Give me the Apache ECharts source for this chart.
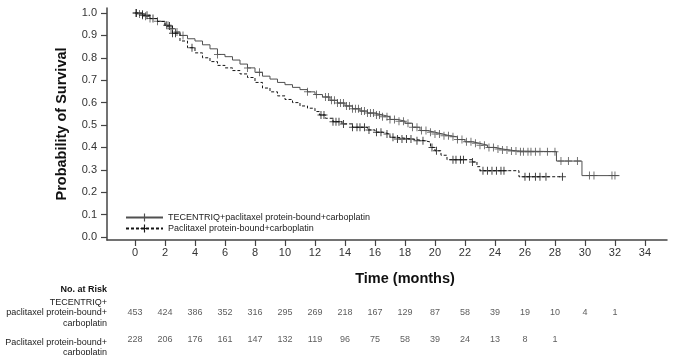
<!DOCTYPE html>
<html><head><meta charset="utf-8">
<script src="https://cdn.jsdelivr.net/npm/echarts/dist/echarts.min.js"></script>
<style>html,body{margin:0;padding:0;background:#fff}#c{width:679px;height:355px}</style>
</head><body><div id="c"></div>
<script>
// ---- data ----
const armNames = ['TECENTRIQ+paclitaxel protein-bound+carboplatin', 'Paclitaxel protein-bound+carboplatin'];
const timesA = [0,0.3,0.7,1.0,1.5,2.0,2.3,2.7,3.0,3.5,4.0,4.5,5.0,5.5,6.0,6.5,7.0,7.5,8.0,8.5,9.0,9.5,10.0,10.5,11.0,11.5,12.0,12.5,13.0,13.5,14.0,14.5,15.0,15.5,16.0,16.5,17.0,17.5,18.0,18.5,19.0,19.5,20.0,20.5,21.0,21.5,22.0,22.5,23.0,23.5,24.0,24.5,25.0,25.5,28.1,29.8,32.3];
const survA  = [1.0,0.995,0.985,0.975,0.963,0.945,0.93,0.915,0.90,0.885,0.875,0.858,0.84,0.815,0.805,0.79,0.772,0.755,0.735,0.718,0.705,0.69,0.68,0.668,0.658,0.648,0.636,0.625,0.61,0.598,0.585,0.572,0.562,0.553,0.545,0.537,0.525,0.517,0.508,0.49,0.475,0.468,0.46,0.452,0.447,0.435,0.425,0.418,0.41,0.40,0.393,0.388,0.384,0.381,0.339,0.274,0.274];
const timesB = [0,0.5,1.0,1.5,2.0,2.5,3.0,3.5,4.0,4.5,5.0,5.5,6.0,6.5,7.0,7.5,8.0,8.5,9.0,9.5,10.0,10.5,11.0,11.5,12.0,12.3,12.7,13.2,13.8,14.5,15.5,16.0,16.5,17.0,17.5,18.5,19.3,19.7,20.0,20.4,20.8,22.5,22.8,23.0,25.6,28.5];
const survB  = [1.0,0.99,0.975,0.962,0.942,0.91,0.875,0.845,0.822,0.80,0.783,0.766,0.755,0.743,0.728,0.712,0.69,0.665,0.648,0.63,0.614,0.6,0.585,0.575,0.56,0.545,0.53,0.515,0.505,0.49,0.478,0.468,0.46,0.445,0.437,0.43,0.424,0.40,0.385,0.365,0.345,0.335,0.314,0.296,0.269,0.269];
const censorA = [0.05,0.3,0.5,0.7,1.0,1.5,2.1,2.2,2.4,2.8,3.2,5.5,7.5,8.3,11.5,12.1,12.7,12.9,13.1,13.3,13.5,13.7,13.9,14.1,14.3,14.5,14.7,14.9,15.1,15.3,15.5,15.7,15.9,16.1,16.3,16.5,16.8,17.0,17.3,17.6,17.9,18.2,18.5,18.8,19.1,19.4,19.7,20.0,20.3,20.6,20.9,21.2,21.5,21.8,22.1,22.4,22.7,23.0,23.3,23.6,23.9,24.2,24.5,24.8,25.1,25.4,25.7,25.9,26.2,26.4,26.7,27.0,27.5,28.0,28.4,28.9,29.5,30.3,30.6,31.8,32.0];
const censorB = [0.1,0.5,0.8,1.2,2.3,2.5,2.7,3.8,12.4,12.6,13.2,13.4,13.6,13.9,14.5,14.8,15.0,15.3,15.6,16.1,16.4,16.8,17.2,17.5,17.8,18.1,18.4,18.8,19.2,19.8,20.1,21.2,21.4,21.7,21.9,22.5,23.2,23.5,23.8,24.1,24.4,24.6,26.0,26.3,26.7,27.0,27.4,28.5];
const riskTimes = [0,2,4,6,8,10,12,14,16,18,20,22,24,26,28,30,32];
const riskA = [453,424,386,352,316,295,269,218,167,129,87,58,39,19,10,4,1];
const riskB = [228,206,176,161,147,132,119,96,75,58,39,24,13,8,1];
const rowLabels = ['TECENTRIQ+\npaclitaxel protein-bound+\ncarboplatin', 'Paclitaxel protein-bound+\ncarboplatin'];
const xTicks = [0,2,4,6,8,10,12,14,16,18,20,22,24,26,28,30,32,34];
const yTicks = [0,0.1,0.2,0.3,0.4,0.5,0.6,0.7,0.8,0.9,1.0];

// ---- build ----
function survAt(times, surv, t) {
  let v = surv[0];
  for (let i = 0; i < times.length; i++) { if (times[i] <= t) v = surv[i]; else break; }
  return v;
}
const FONT = "'Liberation Sans', Arial, sans-serif";
const colA = '#505050', colB = '#151515';
const plus = 'path://M3,0H4V8H3Z M0,3.5H7V4.5H0Z';
const XMIN = -1.867, XMAX = 35.47;

const chart = echarts.init(document.getElementById('c'), null, {renderer: 'canvas'});
const option = {
  animation: false,
  backgroundColor: '#fff',
  textStyle: {fontFamily: FONT},
  grid: [
    {left: 107, right: 12, top: 8, bottom: 115},
    {left: 107, right: 12, top: 299.5, height: 54}
  ],
  legend: {
    orient: 'vertical', left: 120, top: 208, itemWidth: 37, itemHeight: 10, itemGap: 2,
    data: armNames,
    textStyle: {fontSize: 9, color: '#222', fontFamily: FONT}
  },
  xAxis: [{
    type: 'value', gridIndex: 0, min: XMIN, max: XMAX,
    axisLine: {onZero: false, lineStyle: {color: '#444', width: 1.5}},
    axisTick: {customValues: xTicks, length: 6, lineStyle: {color: '#444', width: 1.2}},
    axisLabel: {customValues: xTicks, fontSize: 11, color: '#333', margin: 7, fontFamily: FONT},
    splitLine: {show: false},
    name: 'Time (months)', nameLocation: 'middle', nameGap: 31,
    nameTextStyle: {fontSize: 14.5, fontWeight: 'bold', color: '#111', fontFamily: FONT, padding: [0, 0, 0, 36]}
  }, {
    type: 'value', gridIndex: 1, min: XMIN, max: XMAX, show: false
  }],
  yAxis: [{
    type: 'value', gridIndex: 0, min: -0.0134, max: 1.0223,
    axisLine: {show: true, onZero: false, lineStyle: {color: '#444', width: 1.5}},
    axisTick: {show: true, customValues: yTicks, length: 6, lineStyle: {color: '#444', width: 1.2}},
    axisLabel: {customValues: yTicks, fontSize: 11, color: '#333', margin: 10, fontFamily: FONT,
      formatter: v => v.toFixed(1)},
    splitLine: {show: false},
    name: 'Probability of Survival', nameLocation: 'middle', nameGap: 38,
    nameTextStyle: {fontSize: 14.5, fontWeight: 'bold', color: '#111', fontFamily: FONT}
  }, {
    type: 'category', gridIndex: 1, data: ['A', 'B'], inverse: true, show: false
  }],
  series: [
    {
      name: armNames[0], type: 'line', step: 'end', xAxisIndex: 0, yAxisIndex: 0,
      symbol: plus, symbolSize: [7, 8], showSymbol: false,
      itemStyle: {color: colA},
      lineStyle: {color: colA, width: 1, type: 'solid'},
      data: timesA.map((t, i) => [t, survA[i]])
    },
    {
      name: armNames[1], type: 'line', step: 'end', xAxisIndex: 0, yAxisIndex: 0,
      symbol: plus, symbolSize: [7, 8], showSymbol: false,
      itemStyle: {color: colB},
      lineStyle: {color: colB, width: 1, type: [3, 2]},
      data: timesB.map((t, i) => [t, survB[i]])
    },
    {
      type: 'scatter', xAxisIndex: 0, yAxisIndex: 0, symbol: plus, symbolSize: [7, 8],
      itemStyle: {color: colA}, silent: true,
      data: censorA.map(t => [t, survAt(timesA, survA, t)])
    },
    {
      type: 'scatter', xAxisIndex: 0, yAxisIndex: 0, symbol: plus, symbolSize: [7, 8],
      itemStyle: {color: colB}, silent: true,
      data: censorB.map(t => [t, survAt(timesB, survB, t)])
    },
    {
      type: 'scatter', xAxisIndex: 1, yAxisIndex: 1, symbolSize: 0, silent: true,
      label: {show: true, position: 'inside', fontSize: 9, color: '#333', fontFamily: FONT,
        formatter: p => String(p.value[2])},
      data: riskA.map((n, i) => [riskTimes[i], 'A', n]).concat(riskB.map((n, i) => [riskTimes[i], 'B', n]))
    }
  ],
  graphic: [
    {type: 'text', x: 107, y: 285, style: {text: 'No. at Risk', font: "bold 9px " + FONT, fill: '#111', align: 'right', verticalAlign: 'top'}},
    {type: 'text', x: 107, y: 297, style: {text: rowLabels[0], font: "9px " + FONT, fill: '#222', align: 'right', verticalAlign: 'top', lineHeight: 10.5}},
    {type: 'text', x: 107, y: 337, style: {text: rowLabels[1], font: "9px " + FONT, fill: '#222', align: 'right', verticalAlign: 'top', lineHeight: 10.5}}
  ]
};
chart.setOption(option);
</script></body></html>
